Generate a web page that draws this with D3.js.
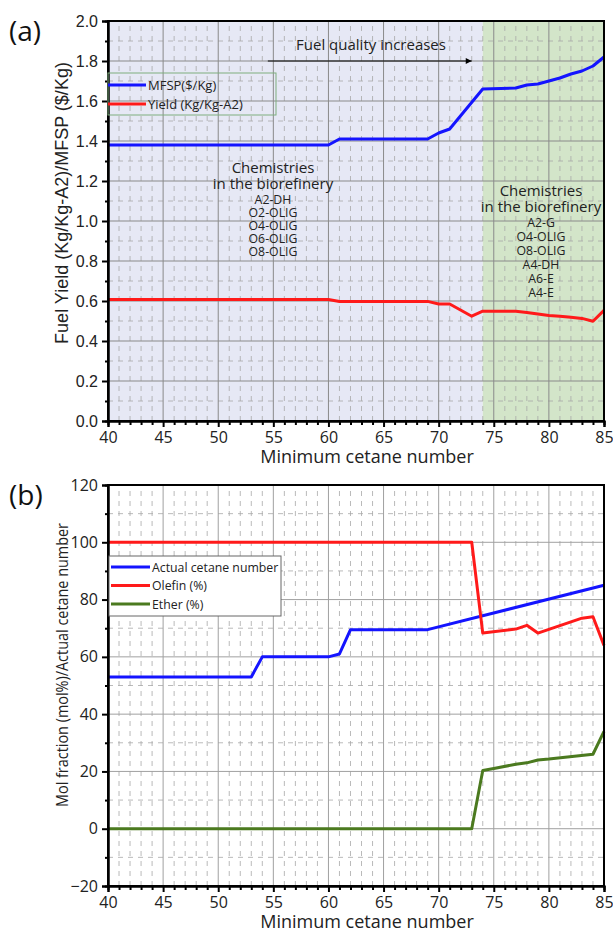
<!DOCTYPE html>
<html>
<head>
<meta charset="utf-8">
<script src="https://cdn.jsdelivr.net/npm/d3@7"></script>
<style>
  body { margin: 0; background: #fff; }
  svg { display: block; }
</style>
</head>
<body>
<svg id="chart" width="613" height="929"></svg>
<script>
// ---- data ----
var cetaneTicks = [40, 45, 50, 55, 60, 65, 70, 75, 80, 85];

// panel (a)
var mfspX  = [40, 60, 61, 69, 70, 71, 74, 77, 78, 79, 80, 81, 82, 83, 84, 85];
var mfspY  = [1.38, 1.38, 1.41, 1.41, 1.44, 1.46, 1.66, 1.665, 1.68, 1.685, 1.70, 1.715, 1.735, 1.75, 1.775, 1.82];
var yieldX = [40, 60, 61, 69, 70, 71, 73, 74, 77, 78, 79, 80, 81, 82, 83, 84, 85];
var yieldY = [0.607, 0.607, 0.598, 0.598, 0.585, 0.585, 0.524, 0.549, 0.549, 0.543, 0.535, 0.528, 0.524, 0.519, 0.513, 0.499, 0.553];
var leftChem  = ["A2-DH", "O2-OLIG", "O4-OLIG", "O6-OLIG", "O8-OLIG"];
var rightChem = ["A2-G", "O4-OLIG", "O8-OLIG", "A4-DH", "A6-E", "A4-E"];

// panel (b)
var actualX = [40, 53, 54, 60, 61, 62, 69, 85];
var actualY = [53, 53, 60, 60, 61, 69.5, 69.5, 85];
var olefinX = [40, 73, 74, 77, 78, 79, 83, 84, 85];
var olefinY = [100, 100, 68.3, 69.7, 71, 68.3, 73.5, 74, 64];
var etherX  = [40, 73, 74, 75, 77, 78, 79, 80, 84, 85];
var etherY  = [0, 0, 20.3, 21, 22.5, 23, 24, 24.3, 26, 34];

var blue = "#1414ff", red = "#ff1a1a", green = "#4b7a1f";
var svg = d3.select("#chart");

var x = d3.scaleLinear().domain([40, 85]).range([108, 604]);
var ya = d3.scaleLinear().domain([0, 2]).range([421, 21]);
var yb = d3.scaleLinear().domain([-20, 120]).range([886, 485]);

function pts(xs, ys) { return xs.map(function(d, i) { return [d, ys[i]]; }); }

function drawPanel(y, yMinor, yMajor, majorCol) {
  var g = svg.append("g");
  var y0 = y.range()[0], y1 = y.range()[1];
  // minor grid
  d3.range(40, 86, 1).filter(function(d) { return d % 5 != 0; }).forEach(function(d) {
    g.append("line").attr("x1", x(d)).attr("x2", x(d)).attr("y1", y0).attr("y2", y1)
      .attr("stroke", "#a8a8a8").attr("stroke-width", 0.8).attr("stroke-dasharray", "5,5");
  });
  yMinor.forEach(function(d) {
    g.append("line").attr("x1", x(40)).attr("x2", x(85)).attr("y1", y(d)).attr("y2", y(d))
      .attr("stroke", "#a8a8a8").attr("stroke-width", 0.8).attr("stroke-dasharray", "5,5");
  });
  // major grid
  cetaneTicks.forEach(function(d) {
    g.append("line").attr("x1", x(d)).attr("x2", x(d)).attr("y1", y0).attr("y2", y1)
      .attr("stroke", majorCol).attr("stroke-width", 1);
  });
  yMajor.forEach(function(d) {
    g.append("line").attr("x1", x(40)).attr("x2", x(85)).attr("y1", y(d)).attr("y2", y(d))
      .attr("stroke", majorCol).attr("stroke-width", 1);
  });
  return g;
}

function drawAxes(y, yMajor, yMinor, fmt, yFont, ySize) {
  var y0 = y.range()[0], y1 = y.range()[1];
  var g = svg.append("g");
  // frame
  g.append("rect").attr("x", x(40)).attr("y", y1).attr("width", x(85) - x(40)).attr("height", y0 - y1)
    .attr("fill", "none").attr("stroke", "#000").attr("stroke-width", 2);

  var xa = g.append("g").attr("transform", "translate(0," + y0 + ")")
    .call(d3.axisBottom(x).tickValues(cetaneTicks).tickSize(6).tickPadding(5));
  xa.selectAll("text").style("font-family", "'Open Sans'").style("font-size", "16px").attr("fill", "#222");
  var xm = g.append("g").attr("transform", "translate(0," + y0 + ")")
    .call(d3.axisBottom(x).tickValues(d3.range(41, 85).filter(function(d) { return d % 5 != 0; }))
      .tickSize(4).tickFormat(""));
  [xa, xm].forEach(function(a) {
    a.select(".domain").attr("stroke-width", 2);
    a.selectAll("line").attr("stroke-width", 2);
  });

  var yaAx = g.append("g").attr("transform", "translate(" + x(40) + ",0)")
    .call(d3.axisLeft(y).tickValues(yMajor).tickFormat(fmt).tickSize(6).tickPadding(4));
  yaAx.selectAll("text").style("font-family", yFont).style("font-size", ySize).attr("fill", "#222");
  var ym = g.append("g").attr("transform", "translate(" + x(40) + ",0)")
    .call(d3.axisLeft(y).tickValues(yMinor).tickSize(3).tickFormat(""));
  [yaAx, ym].forEach(function(a) {
    a.select(".domain").attr("stroke-width", 2);
    a.selectAll("line").attr("stroke-width", 2);
  });

  g.append("text").attr("x", 367).attr("y", y0 + 42).attr("text-anchor", "middle")
    .style("font-family", "'Open Sans'").style("font-size", "18px").attr("fill", "#222")
    .text("Minimum cetane number");
}

function drawLine(y, data, col) {
  svg.append("path").datum(data)
    .attr("d", d3.line().x(function(d) { return x(d[0]); }).y(function(d) { return y(d[1]); }))
    .attr("fill", "none").attr("stroke", col).attr("stroke-width", 3).attr("stroke-linejoin", "round");
}

// ================= panel (a) =================
svg.append("rect").attr("x", x(40)).attr("y", ya(2)).attr("width", x(74) - x(40)).attr("height", ya(0) - ya(2))
  .attr("fill", "#e6e8f5");
svg.append("rect").attr("x", x(74)).attr("y", ya(2)).attr("width", x(85) - x(74)).attr("height", ya(0) - ya(2))
  .attr("fill", "#d3e5c9");

var aMajor = d3.range(0, 2.01, 0.2).map(function(d) { return +d.toFixed(1); });
var aMinor = d3.range(0.1, 2, 0.2).map(function(d) { return +d.toFixed(1); });
drawPanel(ya, aMinor, aMajor, "#8a8a8a");

// arrow
svg.append("defs").append("marker").attr("id", "arrowhead")
  .attr("viewBox", "0 0 10 10").attr("refX", 10).attr("refY", 5)
  .attr("markerWidth", 12).attr("markerHeight", 6).attr("markerUnits", "userSpaceOnUse")
  .attr("orient", "auto")
  .append("path").attr("d", "M0,0 L10,5 L0,10 Z").attr("fill", "#000");
svg.append("line").attr("x1", x(54.5)).attr("x2", x(73)).attr("y1", ya(1.8)).attr("y2", ya(1.8))
  .attr("stroke", "#000").attr("stroke-width", 1).attr("marker-end", "url(#arrowhead)");
svg.append("text").attr("x", 371).attr("y", 50).attr("text-anchor", "middle")
  .style("font-family", "'Open Sans'").style("font-size", "15px").attr("fill", "#222")
  .text("Fuel quality increases");

// chemistry notes
function chemBlock(cx, y0, head2, lines, step) {
  var t = svg.append("g").attr("fill", "#222").style("font-family", "'Open Sans'").attr("text-anchor", "middle");
  t.append("text").attr("x", cx).attr("y", y0).style("font-size", "15px").text("Chemistries");
  t.append("text").attr("x", cx).attr("y", y0 + 16).style("font-size", "15px").text("in the biorefinery");
  lines.forEach(function(s, i) {
    t.append("text").attr("x", cx).attr("y", head2 + i * step).style("font-size", "12.3px").text(s);
  });
}
chemBlock(273, 173, 204, leftChem, 13);
chemBlock(541, 196, 227, rightChem, 14);

drawLine(ya, pts(yieldX, yieldY), red);
drawLine(ya, pts(mfspX, mfspY), blue);

drawAxes(ya, aMajor, aMinor, d3.format(".1f"), "'Liberation Sans', Arial", "16px");

// legend (a)
var lga = svg.append("g");
lga.append("rect").attr("x", 108).attr("y", 73).attr("width", 168).attr("height", 42)
  .attr("fill", "none").attr("stroke", "#7fae7f").attr("stroke-width", 1);
[["MFSP($/Kg)", blue, 85], ["Yield (Kg/Kg-A2)", red, 104]].forEach(function(e) {
  lga.append("line").attr("x1", 108).attr("x2", 146).attr("y1", e[2]).attr("y2", e[2])
    .attr("stroke", e[1]).attr("stroke-width", 3);
  lga.append("text").attr("x", 148).attr("y", e[2] + 4.5).style("font-family", "'Open Sans'")
    .style("font-size", "13px").attr("fill", "#222").text(e[0]);
});

svg.append("text").attr("x", 62).attr("y", 203).attr("text-anchor", "middle")
  .attr("transform", "rotate(-90,62,203)").attr("dy", "0.35em")
  .style("font-family", "'Liberation Sans', Arial").style("font-size", "18px").attr("fill", "#222")
  .text("Fuel Yield (Kg/Kg-A2)/MFSP ($/Kg)");
svg.append("text").attr("x", 9).attr("y", 41).style("font-family", "'Open Sans'")
  .style("font-size", "28px").attr("fill", "#111").text("(a)");

// ================= panel (b) =================
var bMajor = d3.range(-20, 121, 20);
var bMinor = d3.range(-10, 120, 20);
drawPanel(yb, bMinor, bMajor, "#a0a0a0");

drawLine(yb, pts(etherX, etherY), green);
drawLine(yb, pts(actualX, actualY), blue);
drawLine(yb, pts(olefinX, olefinY), red);

drawAxes(yb, bMajor, bMinor, d3.format("d"), "'Open Sans'", "16px");

var lgb = svg.append("g");
lgb.append("rect").attr("x", 109).attr("y", 556).attr("width", 172).attr("height", 60)
  .attr("fill", "#fff").attr("stroke", "#666").attr("stroke-width", 1);
[["Actual cetane number", blue, 567], ["Olefin (%)", red, 585.5], ["Ether (%)", green, 604]].forEach(function(e) {
  lgb.append("line").attr("x1", 111).attr("x2", 150).attr("y1", e[2]).attr("y2", e[2])
    .attr("stroke", e[1]).attr("stroke-width", 3);
  lgb.append("text").attr("x", 152).attr("y", e[2] + 4.5).style("font-family", "'Open Sans'")
    .style("font-size", "12.3px").attr("fill", "#222").text(e[0]);
});

svg.append("text").attr("x", 62).attr("y", 665).attr("text-anchor", "middle")
  .attr("transform", "rotate(-90,62,665)").attr("dy", "0.35em")
  .attr("textLength", 284).attr("lengthAdjust", "spacingAndGlyphs")
  .style("font-family", "'Open Sans'").style("font-size", "16px").attr("fill", "#222")
  .text("Mol fraction (mol%)/Actual cetane number");
svg.append("text").attr("x", 9).attr("y", 505).style("font-family", "'Open Sans'")
  .style("font-size", "28px").attr("fill", "#111").text("(b)");
</script>
</body>
</html>
